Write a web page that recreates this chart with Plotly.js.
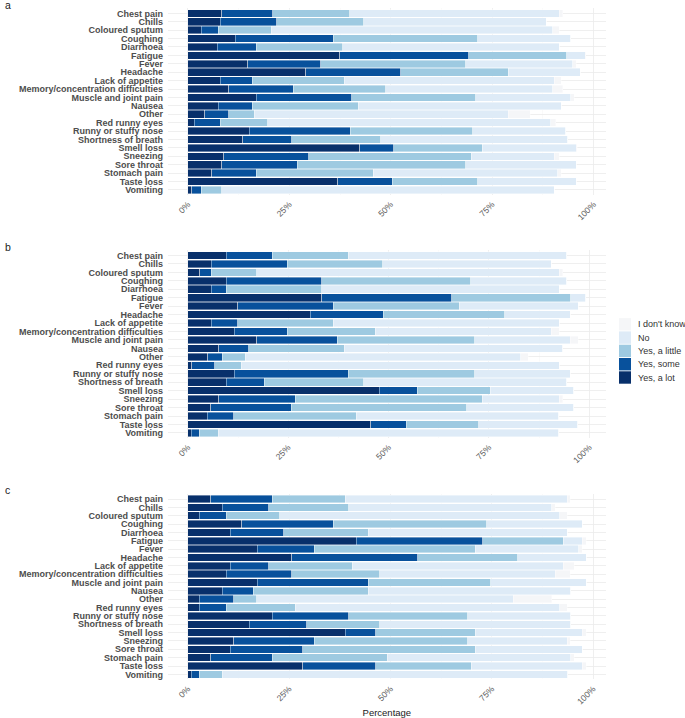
<!DOCTYPE html>
<html>
<head>
<meta charset="utf-8">
<script src="https://cdn.plot.ly/plotly-3.0.1.min.js"></script>
<style>
  html, body { margin: 0; padding: 0; background: #ffffff; }
  #chart { width: 685px; height: 718px; }
</style>
</head>
<body>
<div id="chart"></div>
<script>
// ---------------- data ----------------
const symptoms = ["Chest pain", "Chills", "Coloured sputum", "Coughing", "Diarrhoea", "Fatigue", "Fever", "Headache",
  "Lack of appetite", "Memory/concentration difficulties", "Muscle and joint pain", "Nausea", "Other",
  "Red runny eyes", "Runny or stuffy nose", "Shortness of breath", "Smell loss", "Sneezing", "Sore throat",
  "Stomach pain", "Taste loss", "Vomiting"];

const responses = ["Yes, a lot", "Yes, some", "Yes, a little", "No", "I don't know"];
const tickValues = [0, 25, 50, 75, 100];
const tickLabels = ["0%", "25%", "50%", "75%", "100%"];
const panelLabels = ["a", "b", "c"];
const xTitle = "Percentage";

// Panel a (percent of respondents per answer)
const aLot    = [8.4, 8.0, 3.3, 11.7, 7.2, 37.4, 14.7, 29.0, 8.0, 10.1, 16.8, 7.5, 4.2, 1.6, 15.1, 13.5, 42.4, 8.8, 8.4, 5.9, 36.9, 0.9];
const aSome   = [12.5, 13.9, 4.2, 24.1, 9.6, 31.9, 18.1, 23.5, 7.9, 15.9, 23.6, 8.4, 5.9, 6.4, 24.9, 12.1, 8.4, 21.0, 18.5, 10.9, 13.5, 2.4];
const aLittle = [19.0, 21.4, 13.0, 35.6, 21.4, 24.1, 35.7, 26.5, 22.7, 22.8, 30.6, 26.1, 6.2, 11.7, 30.2, 21.9, 21.8, 40.0, 41.6, 28.9, 21.0, 5.1];
const aNo     = [51.7, 45.0, 69.4, 23.0, 53.4, 4.5, 26.4, 17.7, 51.7, 41.1, 23.4, 50.0, 62.7, 69.8, 23.0, 46.1, 23.2, 20.5, 27.3, 45.5, 24.4, 81.9];
const aIdk    = [0.8, 0.0, 1.7, 0.0, 0.0, 0.2, 0.8, 0.0, 1.7, 2.5, 0.9, 0.0, 5.4, 1.2, 0.0, 0.0, 0.2, 1.3, 0.0, 0.8, 0.0, 0.0];

// Panel b
const bLot    = [9.6, 5.8, 2.9, 9.6, 5.8, 33.4, 12.4, 30.5, 5.8, 11.5, 17.2, 7.7, 4.9, 1.0, 11.5, 9.6, 47.7, 7.7, 5.7, 4.8, 45.6, 0.8];
const bSome   = [11.4, 19.0, 2.9, 23.8, 3.7, 32.4, 23.8, 18.2, 6.6, 13.3, 20.0, 7.5, 3.7, 5.7, 28.5, 9.4, 9.5, 19.1, 20.0, 6.6, 8.8, 2.0];
const bLittle = [19.0, 23.8, 11.4, 37.1, 23.9, 29.6, 31.4, 30.3, 23.8, 21.9, 34.3, 23.8, 5.7, 6.6, 31.5, 24.8, 18.1, 46.6, 43.8, 30.5, 18.1, 4.8];
const bNo     = [54.4, 41.9, 75.3, 23.9, 59.1, 3.7, 29.6, 16.3, 56.3, 43.8, 23.8, 54.4, 68.6, 79.2, 23.8, 50.6, 20.9, 19.1, 26.7, 50.5, 24.6, 84.8];
const bIdk    = [0.0, 0.0, 0.9, 0.0, 0.0, 0.0, 0.0, 0.0, 0.0, 2.0, 1.9, 0.0, 1.9, 0.0, 0.0, 0.0, 0.0, 0.9, 0.0, 0.0, 0.0, 0.0];

// Panel c
const cLot    = [5.7, 8.5, 2.8, 13.3, 10.4, 41.6, 17.1, 25.6, 10.4, 9.5, 17.1, 8.5, 2.8, 2.8, 20.8, 15.1, 38.8, 11.3, 10.4, 5.7, 28.4, 0.8];
const cSome   = [15.1, 11.4, 6.7, 22.6, 13.3, 31.2, 14.1, 31.1, 9.5, 16.1, 27.4, 7.6, 8.5, 6.7, 18.9, 14.2, 7.5, 19.9, 18.0, 15.1, 17.9, 2.0];
const cLittle = [18.0, 19.8, 13.2, 37.8, 20.8, 19.8, 39.7, 24.7, 20.7, 21.7, 30.2, 28.4, 5.7, 17.0, 29.3, 18.0, 24.6, 37.8, 42.5, 28.4, 23.6, 5.7];
const cNo     = [54.8, 50.1, 69.0, 23.6, 49.1, 4.7, 25.5, 16.9, 52.0, 43.4, 23.6, 50.0, 63.3, 65.2, 25.5, 47.2, 26.4, 24.6, 26.4, 45.3, 27.4, 85.2];
const cIdk    = [0.8, 0.9, 1.9, 0.0, 0.0, 1.0, 0.9, 0.0, 2.8, 3.7, 0.0, 0.0, 9.5, 1.9, 0.0, 0.0, 1.0, 0.8, 0.0, 0.9, 1.0, 0.0];

// ---------------- styling ----------------
const colors = ["#08306b", "#08519c", "#9ecae1", "#deebf7", "#f5f6f8"];
const W = 685, H = 718;
const FONT = "Liberation Sans, Arial, Helvetica, sans-serif";

const panels = [
  { series: [aLot, aSome, aLittle, aNo, aIdk], top: 8.3,   bottom: 195.0, xr: [-4.9, 103.0], label: 5 },
  { series: [bLot, bSome, bLittle, bNo, bIdk], top: 250.4, bottom: 438.0, xr: [-4.95, 104.1], label: 247 },
  { series: [cLot, cSome, cLittle, cNo, cIdk], top: 494.0, bottom: 679.4, xr: [-4.9, 103.1], label: 490 }
];
const xLeft = 168, xRight = 605.7;

const traces = [];
const layout = {
  width: W, height: H,
  margin: { l: 0, r: 0, t: 0, b: 0, pad: 0 },
  paper_bgcolor: "#ffffff", plot_bgcolor: "#ffffff",
  font: { family: FONT, color: "#4d4d4d" },
  barmode: "stack",
  bargap: 0.1,
  showlegend: false,
  annotations: [],
  shapes: []
};

panels.forEach((p, i) => {
  const sfx = i === 0 ? "" : String(i + 1);
  const xa = "x" + sfx, ya = "y" + sfx;
  p.series.forEach((vals, k) => {
    traces.push({
      type: "bar", orientation: "h",
      x: vals, y: symptoms,
      xaxis: xa, yaxis: ya,
      name: responses[k],
      marker: { color: colors[k], line: { color: "rgba(255,255,255,0.8)", width: 0.5 } },
      hoverinfo: "x+y+name"
    });
  });
  layout["xaxis" + sfx] = {
    domain: [xLeft / W, xRight / W],
    anchor: ya,
    range: p.xr,
    tickmode: "array", tickvals: tickValues, ticktext: tickLabels,
    tickangle: -45,
    tickfont: { family: FONT, size: 8.5, color: "#5a5a5a" },
    showgrid: true, gridcolor: "#ebebeb", gridwidth: 0.8,
    minor: { tickvals: [12.5, 37.5, 62.5, 87.5], showgrid: true, gridcolor: "#f5f5f5", gridwidth: 0.5, ticks: "" },
    zeroline: false, showline: false, ticks: "",
    automargin: false, fixedrange: true,
    ticklabelstandoff: 2
  };
  if (i === 2) {
    layout["xaxis" + sfx].title = { text: xTitle, font: { family: FONT, size: 9.5, color: "#1a1a1a" }, standoff: 6 };
  }
  layout["yaxis" + sfx] = {
    domain: [1 - p.bottom / H, 1 - p.top / H],
    anchor: xa,
    type: "category",
    categoryorder: "array", categoryarray: symptoms,
    tickmode: "array", tickvals: symptoms, ticktext: symptoms,
    range: [symptoms.length - 0.4, -0.6],
    tickfont: { family: FONT, size: 9, color: "#4d4d4d", weight: "bold" },
    showgrid: true, gridcolor: "#ebebeb", gridwidth: 0.8,
    zeroline: false, showline: false, ticks: "",
    automargin: false, fixedrange: true,
    ticklabelstandoff: 4
  };
  layout.annotations.push({
    text: panelLabels[i], xref: "paper", yref: "paper",
    x: 3 / W, y: 1 - p.label / H, xanchor: "left", yanchor: "middle",
    showarrow: false, font: { family: FONT, size: 10.5, color: "#222222" }
  });
});

// custom legend (top: I don't know ... bottom: Yes, a lot)
const legRows = [324.3, 337.6, 350.9, 364.2, 377.5];
for (let j = 0; j < responses.length; j++) {
  const k = responses.length - 1 - j;
  const yc = legRows[j];
  layout.shapes.push({
    type: "rect", xref: "paper", yref: "paper",
    x0: 619 / W, x1: 631 / W, y0: 1 - (yc + 6.2) / H, y1: 1 - (yc - 6.2) / H,
    fillcolor: colors[k], line: { width: 0 }
  });
  layout.annotations.push({
    text: responses[k], xref: "paper", yref: "paper",
    x: 636 / W, y: 1 - yc / H, xanchor: "left", yanchor: "middle",
    showarrow: false, font: { family: FONT, size: 9, color: "#333333" }
  });
}

Plotly.newPlot("chart", traces, layout, { staticPlot: true, displayModeBar: false });
</script>
</body>
</html>
